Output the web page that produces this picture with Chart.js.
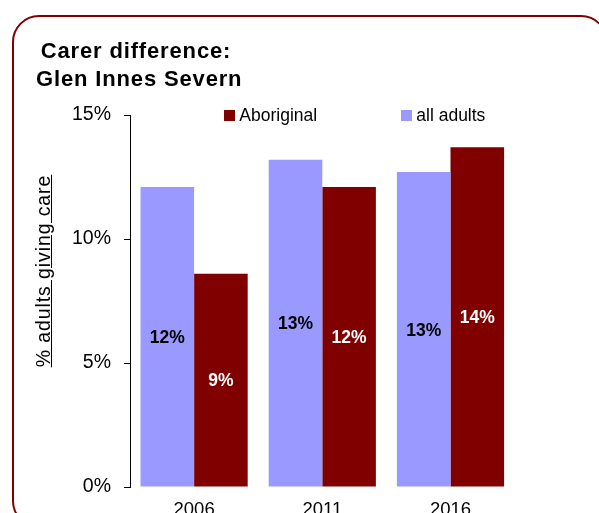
<!DOCTYPE html>
<html>
<head>
<meta charset="utf-8">
<script src="https://cdn.jsdelivr.net/npm/chart.js@4/dist/chart.umd.min.js"></script>
<style>
html,body{margin:0;padding:0;background:#fff;overflow:hidden;width:599px;height:513px;}
#wrap{position:relative;width:599px;height:513px;overflow:hidden;font-family:"Liberation Sans",Arial,sans-serif;}
#frame{position:absolute;left:12px;top:14.5px;width:596px;height:513px;border:2.4px solid #800000;border-radius:27px;box-sizing:border-box;}
#title{position:absolute;left:36px;top:37px;width:200px;text-align:center;font-weight:bold;font-size:22px;line-height:28px;letter-spacing:0.85px;color:#000;white-space:nowrap;}
#ytitle{position:absolute;left:-107.25px;top:259px;width:300px;height:24px;line-height:24px;text-align:center;font-size:19.5px;letter-spacing:0.9px;color:#000;text-decoration:underline;transform:rotate(-90deg);white-space:nowrap;}
#chart{position:absolute;left:0;top:0;}
</style>
</head>
<body>
<div id="wrap">
  <canvas id="chart" width="599" height="513"></canvas>
  <div id="frame"></div>
  <div id="title">Carer difference:<br>Glen Innes Severn</div>
  <div id="ytitle">% adults giving care</div>
</div>
<script>
// ---- data ----
const categories = ['2006', '2011', '2016'];
const allAdults = [12.1, 13.2, 12.7];
const aboriginal = [8.6, 12.1, 13.7];
const seriesNames = ['all adults', 'Aboriginal'];
const yTickValues = [0, 5, 10, 15];

const FONT = '"Liberation Sans", Arial, sans-serif';
const colors = ['#9999FF', '#800000'];
const labelColors = ['#000000', '#FFFFFF'];

const barLabels = {
  id: 'barLabels',
  afterDatasetsDraw(chart) {
    const ctx = chart.ctx;
    chart.data.datasets.forEach((ds, i) => {
      const meta = chart.getDatasetMeta(i);
      meta.data.forEach((bar, j) => {
        const p = bar.getProps(['x', 'y', 'base'], true);
        ctx.save();
        ctx.font = 'bold 17.5px ' + FONT;
        ctx.fillStyle = labelColors[i];
        ctx.textAlign = 'center';
        ctx.textBaseline = 'middle';
        ctx.fillText(Math.round(ds.data[j]) + '%', p.x, (p.y + p.base) / 2 + 1.5);
        ctx.restore();
      });
    });
  }
};

const legendBoxes = {
  id: 'legendBoxes',
  afterDraw(chart) {
    const ctx = chart.ctx;
    const order = [1, 0];
    const xs = [224, 401];
    ctx.save();
    order.forEach((di, k) => {
      const ds = chart.data.datasets[di];
      ctx.fillStyle = ds.backgroundColor;
      ctx.fillRect(xs[k], 110, 11, 11);
      ctx.fillStyle = '#000';
      ctx.font = '17.5px ' + FONT;
      ctx.textAlign = 'left';
      ctx.textBaseline = 'middle';
      ctx.fillText(ds.label, xs[k] + 15.3, 116);
    });
    ctx.restore();
  }
};

new Chart(document.getElementById('chart'), {
  type: 'bar',
  data: {
    labels: categories,
    datasets: [
      { label: seriesNames[0], data: allAdults, backgroundColor: colors[0], borderWidth: 0,
        categoryPercentage: 0.836, barPercentage: 1.0 },
      { label: seriesNames[1], data: aboriginal, backgroundColor: colors[1], borderWidth: 0,
        categoryPercentage: 0.836, barPercentage: 1.0 }
    ]
  },
  options: {
    responsive: false,
    devicePixelRatio: 1,
    animation: false,
    layout: { padding: { left: 0, top: 115, right: 84.4, bottom: 0 } },
    plugins: {
      legend: { display: false },
      title: { display: false },
      tooltip: { enabled: false }
    },
    scales: {
      x: {
        grid: { display: false, drawTicks: false },
        border: { display: false },
        ticks: { color: '#000', font: { family: FONT, size: 18.5 }, padding: 12, maxRotation: 0 },
        afterFit(scale) { scale.height = 26; }
      },
      y: {
        min: 0, max: 15,
        afterBuildTicks(scale) { scale.ticks = yTickValues.map(v => ({ value: v })); },
        grid: { display: true, drawOnChartArea: false, drawTicks: true, tickLength: 6, color: '#000', lineWidth: 1 },
        border: { display: true, color: '#000', width: 1 },
        ticks: { color: '#000', font: { family: FONT, size: 19.5 }, padding: 13,
                 callback: v => v + '%' },
        afterFit(scale) { scale.width = 130; }
      }
    }
  },
  plugins: [barLabels, legendBoxes]
});
</script>
</body>
</html>
